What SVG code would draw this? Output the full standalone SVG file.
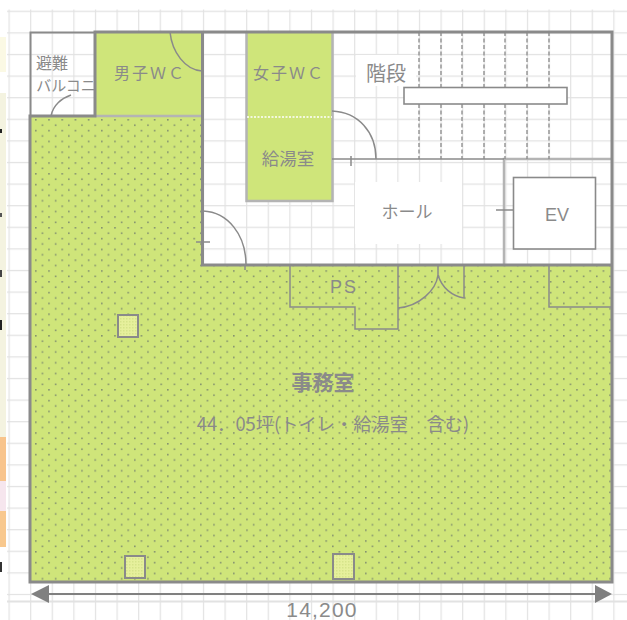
<svg xmlns="http://www.w3.org/2000/svg" width="627" height="620" viewBox="0 0 627 620">
<style>
.w{fill:none;stroke:#8a8a8a;stroke-width:3}
.l{fill:none;stroke:#8a8a8a;stroke-width:1.5}
.b{fill:#fff;stroke:#8a8a8a;stroke-width:1.600}
.g{fill:none;stroke:#b4b4b4;stroke-width:2.5}
.d{fill:none;stroke:#8a8a8a;stroke-width:1.3;stroke-dasharray:4 2.5}
.c{fill:url(#fine);stroke:#8a8a8a;stroke-width:2}
text{font-family:"Noto Sans CJK JP","Liberation Sans",sans-serif;fill:#8a8a8a;text-anchor:middle}
.s{font-family:"Liberation Sans",sans-serif}
</style>
<defs>
<pattern id="grid" x="8.5" y="10.7" width="21.6" height="21.6" patternUnits="userSpaceOnUse"><path d="M0 0H21.6M0 0V21.6" fill="none" stroke="#e2e2e2" stroke-width="2.4"/></pattern>
<pattern id="vgrid" x="8.5" y="0" width="21.6" height="21.6" patternUnits="userSpaceOnUse"><path d="M0 0V21.6" fill="none" stroke="#e2e2e2" stroke-width="2.4"/></pattern>
<pattern id="dots" x="35" y="119" width="13.2" height="10.8" patternUnits="userSpaceOnUse"><rect x="0" y="0" width="1.600" height="1.600" fill="#84926f"/><rect x="6.6" y="5.4" width="1.600" height="1.600" fill="#84926f"/></pattern>
<pattern id="fine" width="3" height="3" patternUnits="userSpaceOnUse"><rect width="3" height="3" fill="#e6f09c"/><rect width="1.500" height="1.500" fill="#d6e48a"/></pattern>
</defs>
<rect width="627" height="620" fill="#fff"/>
<g id="strip">
<rect x="0" y="37" width="6" height="35" fill="#fbf9e4"/>
<rect x="0" y="93" width="6" height="344" fill="#f4f3e0"/>
<rect x="0" y="129" width="2" height="4" fill="#222"/>
<rect x="0" y="213" width="2" height="4" fill="#555"/>
<rect x="0" y="270" width="2" height="7" fill="#444"/>
<rect x="0" y="320" width="2" height="10" fill="#222"/>
<rect x="0" y="437" width="6" height="44" fill="#f8c48c"/>
<rect x="0" y="481" width="6" height="30" fill="#f6e6ee"/>
<rect x="0" y="511" width="6" height="36" fill="#f8c88e"/>
<rect x="0" y="562" width="2" height="10" fill="#333"/>
</g>
<rect x="7" y="9.500" width="620" height="586" fill="url(#grid)"/>
<rect x="7" y="595" width="620" height="25" fill="url(#vgrid)"/>
<path d="M7 601.500H627" stroke="#e2e2e2" stroke-width="2"/>
<rect x="355" y="182" width="107" height="62" fill="#fff"/>
<rect x="356" y="55" width="60" height="31" fill="#fff"/>
<g id="office">
<path d="M30 117H95V32H203V265H612V582H30Z" fill="#cfe57a"/>
<path d="M30 117H203V265H612V582H30Z" fill="url(#dots)"/>
</g>
<g id="rooms">
<rect x="246.500" y="32" width="86" height="169" fill="#cfe57a"/>
<path class="g" d="M332.500 32V201H246.500V32"/>
<path d="M247 117H332" stroke="#fff" stroke-width="1.500" stroke-dasharray="2 1.500" fill="none"/>
<path class="g" d="M95 116H203"/>
<path class="g" d="M504 265V159H612"/>
</g>
<g id="walls">
<path class="w" d="M30 582V116H95V32H612V582Z"/>
<path class="w" d="M202.500 32V265H612"/>
<path class="l" style="stroke-width:2" d="M30.500 116V32.500H95"/>
<path class="l" d="M332 159H504"/>
<path class="l" d="M290 265V307H355V329H398V265"/>
<path class="l" d="M549 265V307H612"/>
<path class="l" d="M464 265V298"/>
<rect class="b" x="513.500" y="177.500" width="82" height="71.500"/>
<rect class="b" x="404" y="87.500" width="163" height="16.500"/>
</g>
<g id="doors">
<path class="l" d="M170 32C172 52 185 70 202 71"/>
<path class="l" d="M71 95C62 98 53 105 51 116"/>
<path class="l" d="M203 211C228 212 246 235 246 265M196 242H210M245 265V270"/>
<path class="l" d="M332 111C358 112 376 132 376 159M351 156V166"/>
<path class="l" d="M398 308C420 306 436 290 438 275M438 275C442 288 452 296 464 298M438 265V278"/>
<path class="l" d="M496 210H514"/>
</g>
<g id="stairs">
<path class="d" d="M419 32V88M419 104V159M441 32V88M441 104V159M462 32V88M462 104V159M484 32V88M484 104V159M505 32V88M505 104V159M527 32V88M527 104V159M549 32V88M549 104V159"/>
</g>
<g id="columns">
<rect class="c" x="118" y="315" width="20" height="22"/>
<rect class="c" x="125" y="556" width="20" height="22"/>
<rect class="c" x="333" y="554" width="21" height="25"/>
</g>
<g id="dim">
<path d="M40 594H604" stroke="#808080" stroke-width="2" fill="none"/>
<path d="M31 594L49 585V603Z" fill="#808080"/>
<path d="M612 594L595 585V603Z" fill="#808080"/>
</g>
<g id="labels">
<text x="52" y="69" font-size="16">避難</text>
<text x="66" y="91" font-size="15">バルコニ</text>
<text x="150" y="79" font-size="16" letter-spacing="2">男子ＷＣ</text>
<text x="289" y="79" font-size="16" letter-spacing="2">女子ＷＣ</text>
<text x="288" y="165" font-size="17.500">給湯室</text>
<text x="386" y="81" font-size="20">階段</text>
<text x="407" y="218" font-size="17">ホール</text>
<text class="s" x="557" y="221" font-size="18">EV</text>
<text class="s" x="344" y="293" font-size="18" letter-spacing="2">PS</text>
<text x="323" y="390" font-size="21" font-weight="bold">事務室</text>
<text x="333" y="431" font-size="18.300">44．05坪(トイレ・給湯室　含む)</text>
<text class="s" x="322" y="617" font-size="21" letter-spacing="1.200">14,200</text>
</g>
</svg>
